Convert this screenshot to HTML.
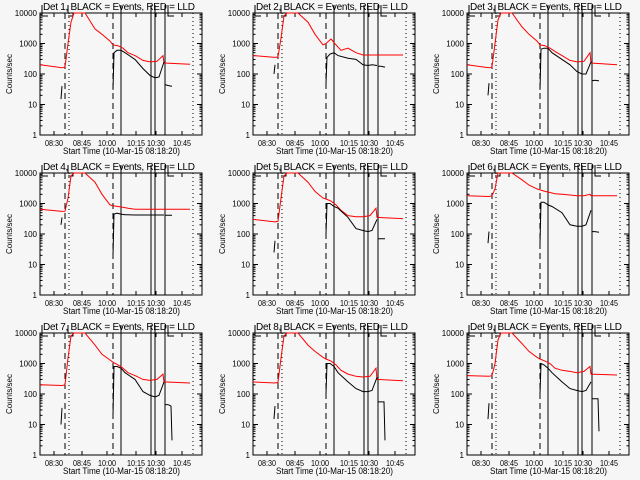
<!DOCTYPE html>
<html><head><meta charset="utf-8"><style>
html,body{margin:0;padding:0;background:#f6f6f6;}
svg{display:block;font-family:"Liberation Sans",sans-serif;}
</style></head><body>
<svg id="chart" width="640" height="480" viewBox="0 0 640 480"></svg>
<script>
const detNames = ["Det 1","Det 2","Det 3","Det 4","Det 5","Det 6","Det 7","Det 8","Det 9"];
const tickT = [14,42,67,96,116,142];
const tickLabels = ["08:30","08:45","10:00","10:15","10:30","10:45"];
const decades = [1,10,100,1000,10000];
const decadeLabels = ["1","10","100","1000","10000"];
const redT = [0,22,25,28,31,34,45,55,62,70,73,78,83,88,95,103,110,117,123,124,150];
const red1 = [200,160,170,1000,5000,10000,12000,3000,2000,1200,900,850,700,500,400,280,250,260,400,230,210];
const red2 = [400,350,360,1500,8000,12000,12000,5000,2000,900,1000,1400,900,600,700,500,420,420,420,420,420];
const red3 = [200,160,170,1000,6000,10000,12000,3500,2000,1200,900,850,700,550,400,280,250,260,500,230,200];
const red4 = [650,550,560,1500,8000,12000,12000,5000,2000,900,850,800,750,700,650,650,650,650,650,650,650];
const red5 = [300,250,260,1500,8000,12000,12000,5000,2500,1500,1400,1200,900,600,400,370,370,400,700,350,320];
const red6 = [1800,1700,1800,3000,10000,12000,10000,6000,4000,3000,2800,2500,2300,2100,2000,1900,1800,1800,2000,1800,1800];
const red7 = [200,190,200,1500,8000,12000,12000,4000,2000,1300,1100,900,700,500,400,300,280,300,450,250,230];
const red8 = [250,230,240,1500,8000,12000,12000,4000,2500,1600,1400,1200,900,600,450,380,360,380,700,300,270];
const red9 = [400,380,400,1000,6000,10000,12000,4500,2500,1600,1400,1200,1000,700,600,550,500,550,800,450,420];
const blackT = [73,74,77,81,85,95,103,110,115,119,124];
const black1 = [30,500,600,600,500,300,150,90,75,80,250];
const black2 = [50,350,450,500,400,330,300,200,190,200,190];
const black3 = [30,650,700,700,500,300,200,120,100,100,250];
const black4 = [20,450,480,450,430,420,420,420,420,420,420];
const black5 = [100,1000,1000,800,700,350,150,130,120,130,300];
const black6 = [50,1100,1100,900,800,500,200,180,180,200,600];
const black7 = [20,800,800,700,500,300,120,90,80,90,250];
const black8 = [100,1000,1000,800,500,250,150,120,120,130,350];
const black9 = [100,1000,900,700,500,250,150,130,120,130,250];
const earlyT = [21,22];
const early1=[15,40],early2=[100,200],early3=[20,50],early4=[200,350],early5=[25,60],early6=[50,120],early7=[10,35],early8=[15,40],early9=[15,50];
const lateT = [125,128,131,132];
const late1=[45,42,40,40],late2=[180,180,170,170],late3=[60,62,60,60],late4=[410,410,410,410],late5=[70,70,70,70],late6=[120,120,115,115],late7=[45,45,40,3],late8=[55,55,55,3],late9=[70,70,70,6];
const reds=[red1,red2,red3,red4,red5,red6,red7,red8,red9];
const blacks=[black1,black2,black3,black4,black5,black6,black7,black8,black9];
const earlies=[early1,early2,early3,early4,early5,early6,early7,early8,early9];
const lates=[late1,late2,late3,late4,late5,late6,late7,late8,late9];
const dashedT=[25,73], dottedT=[29,153], solidT=[81,111,115,125];

const NS="http://www.w3.org/2000/svg";
const svg=document.getElementById('chart');
function mk(tag,attrs,parent){const e=document.createElementNS(NS,tag);for(const k in attrs)e.setAttribute(k,attrs[k]);parent.appendChild(e);return e;}
const X0=40,X1=202,Y0=135,Y1=13,DEC=30.5;
function xs(t){return X0+t;}
function ys(v){let y=Y0-Math.log10(v)*DEC;return Math.max(Y1,Math.min(Y0,y));}
function path(ts,vs){return ts.map((t,i)=>(i?'L':'M')+xs(t).toFixed(1)+' '+ys(vs[i]).toFixed(1)).join(' ');}
const ox=[0,213,427],oy=[0,160,320];
for(let p=0;p<9;p++){
  const g=mk('g',{transform:`translate(${ox[p%3]},${oy[Math.floor(p/3)]})`},svg);
  
  
  const t=mk('text',{x:43,y:10,'font-size':10,textLength:152,lengthAdjust:'spacing',fill:'#000'},g);
  t.textContent=detNames[p]+", BLACK = Events, RED = LLD";
  
  
  const yl=mk('text',{x:0,y:0,'font-size':8,'text-anchor':'middle',transform:'translate(12,74) rotate(-90)'},g);
  yl.textContent="Counts/sec";
  
  
  const xl=mk('text',{x:63,y:154,'font-size':9,textLength:117,lengthAdjust:'spacingAndGlyphs'},g);
  xl.textContent="Start Time (10-Mar-15 08:18:20)";
  
  
  const fr=mk('rect',{x:X0,y:Y1,width:X1-X0,height:Y0-Y1,fill:'none',stroke:'#000','stroke-width':1},g);
  
  
  decades.forEach((d,i)=>{
    const y=ys(d);
    mk('line',{x1:X0,x2:X0+5,y1:y,y2:y,stroke:'#000'},g);
    mk('line',{x1:X1-5,x2:X1,y1:y,y2:y,stroke:'#000'},g);
    const lb=mk('text',{x:X0-3,y:y+3,'font-size':8,'text-anchor':'end'},g);
    lb.textContent=decadeLabels[i];
    
    
    if(d<10000)for(let m=2;m<10;m++){const ym=ys(d*m);
      mk('line',{x1:X0,x2:X0+2.5,y1:ym,y2:ym,stroke:'#000'},g);
      mk('line',{x1:X1-2.5,x2:X1,y1:ym,y2:ym,stroke:'#000'},g);}
  });
  tickT.forEach((tt,i)=>{
    const x=xs(tt);
    mk('line',{x1:x,x2:x,y1:Y0,y2:Y0-4,stroke:'#000'},g);
    mk('line',{x1:x,x2:x,y1:Y1,y2:Y1+4,stroke:'#000'},g);
    const lb=mk('text',{x:x-9,y:146,'font-size':8,textLength:18,lengthAdjust:'spacingAndGlyphs'},g);
    lb.textContent=tickLabels[i];
    
    
  });
  dashedT.forEach(tt=>{const l=mk('line',{x1:xs(tt),x2:xs(tt),y1:Y1,y2:Y0,stroke:'#000','stroke-dasharray':'6,4'},g);
    
    });
  dottedT.forEach(tt=>{const l=mk('line',{x1:xs(tt),x2:xs(tt),y1:Y1,y2:Y0,stroke:'#000','stroke-dasharray':'1,3'},g);
    
    });
  solidT.forEach(tt=>{const l=mk('line',{x1:xs(tt),x2:xs(tt),y1:5,y2:Y0,stroke:'#000'},g);
    
    });
  mk('path',{d:'M42 5 V16 H48 M68 5 V13 M68 16 H73 V13 M168 5 V16 H174',fill:'none',stroke:'#000'},g);
  const r=mk('path',{d:path(redT,reds[p]),fill:'none',stroke:'#ff0000','stroke-width':1},g);
  
  
  const b=mk('path',{d:path(blackT,blacks[p])+' '+path(earlyT,earlies[p])+' '+path(lateT,lates[p]),fill:'none',stroke:'#000','stroke-width':1},g);
  
  
}
</script>
</body></html>
